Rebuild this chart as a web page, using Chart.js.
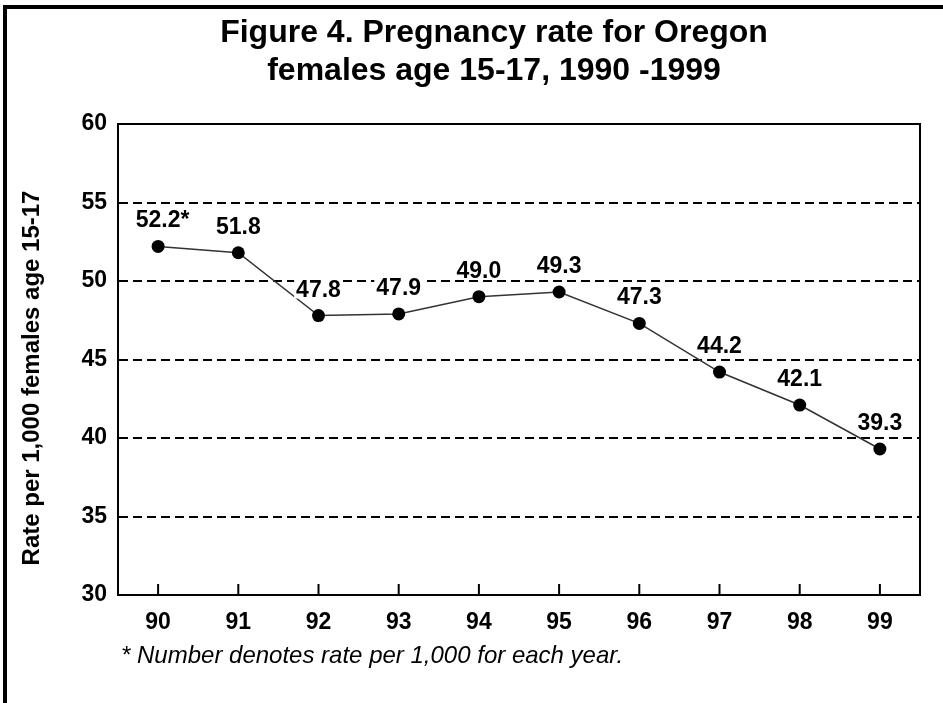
<!DOCTYPE html>
<html>
<head>
<meta charset="utf-8">
<script src="https://cdn.jsdelivr.net/npm/chart.js@4.4.0/dist/chart.umd.min.js"></script>
<style>
  html, body { margin: 0; padding: 0; background: #fff; }
  #wrap { position: relative; width: 943px; height: 703px; }
</style>
</head>
<body>
<div id="wrap"><canvas id="myChart"></canvas></div>
<script>
// data
const years = ["90", "91", "92", "93", "94", "95", "96", "97", "98", "99"];
const rates = [52.2, 51.8, 47.8, 47.9, 49.0, 49.3, 47.3, 44.2, 42.1, 39.3];
const rateLabels = ["52.2*", "51.8", "47.8", "47.9", "49.0", "49.3", "47.3", "44.2", "42.1", "39.3"];
const yMin = 30, yMax = 60, yStep = 5;

const titleLines = ["Figure 4. Pregnancy rate for Oregon", "females age 15-17, 1990 -1999"];
const yTitle = "Rate per 1,000 females age 15-17";
const footnote = "* Number denotes rate per 1,000 for each year.";

const FONT = '"Liberation Sans", Arial, Helvetica, sans-serif';

/* frame, titles, labels, inner ticks */
const extras = {
  id: 'extras',
  beforeDraw(chart) {
    const ctx = chart.ctx;
    ctx.save();
    ctx.fillStyle = '#fff';
    ctx.fillRect(0, 0, chart.width, chart.height);
    ctx.fillStyle = '#000';
    ctx.fillRect(3, 5, 4, chart.height);
    ctx.fillRect(3, 5, chart.width, 4);

    ctx.font = 'bold 32px ' + FONT;
    ctx.textAlign = 'center';
    ctx.textBaseline = 'alphabetic';
    ctx.fillText(titleLines[0], 494, 42);
    ctx.fillText(titleLines[1], 494, 80);

    // y axis title
    ctx.font = 'bold 24px ' + FONT;
    ctx.translate(32, 378);
    ctx.rotate(-Math.PI / 2);
    ctx.textBaseline = 'middle';
    ctx.fillText(yTitle, 0, 0);
    ctx.restore();
  },
  afterDatasetsDraw(chart) {
    const ctx = chart.ctx;
    const area = chart.chartArea;
    const x = chart.scales.x;
    ctx.save();
    // box top + right
    ctx.strokeStyle = '#000';
    ctx.lineWidth = 2;
    ctx.beginPath();
    ctx.moveTo(area.left, area.top);
    ctx.lineTo(area.right, area.top);
    ctx.lineTo(area.right, area.bottom);
    ctx.stroke();
    // inner tick marks
    for (let i = 0; i < years.length; i++) {
      const px = x.getPixelForValue(i);
      ctx.beginPath();
      ctx.moveTo(px, area.bottom);
      ctx.lineTo(px, area.bottom - 11);
      ctx.stroke();
    }
    // value labels
    const meta = chart.getDatasetMeta(0);
    ctx.font = 'bold 23px ' + FONT;
    ctx.textBaseline = 'alphabetic';
    ctx.textAlign = 'left';
    meta.data.forEach((pt, i) => {
      const txt = rateLabels[i];
      const core = txt.replace('*', '');
      const wCore = ctx.measureText(core).width;
      const w = ctx.measureText(txt).width;
      const left = pt.x - wCore / 2;
      const base = pt.y - 19;
      ctx.fillStyle = '#fff';
      ctx.fillRect(left - 2, base - 19, w + 4, 21);
      ctx.fillStyle = '#000';
      ctx.fillText(txt, left, base);
    });
    // footnote
    ctx.font = 'italic 24px ' + FONT;
    ctx.fillText(footnote, 121, 663);
    ctx.restore();
  }
};

const data = {
  labels: years,
  datasets: [{
    label: "Rate",
    data: rates,
    borderColor: "#333",
    borderWidth: 1.5,
    tension: 0,
    pointRadius: 6.5,
    pointHoverRadius: 6.5,
    pointBackgroundColor: "#000",
    pointBorderColor: "#000",
    pointBorderWidth: 0
  }]
};

const config = {
  type: "line",
  data: data,
  plugins: [extras],
  options: {
    responsive: true,
    maintainAspectRatio: false,
    animation: false,
    layout: {
      padding: { top: 124, left: 0, right: 23, bottom: 58 }
    },
    plugins: {
      legend: { display: false },
      title: { display: false },
      tooltip: { enabled: false }
    },
    scales: {
      x: {
        offset: true,
        grid: { display: false, drawTicks: false },
        border: { display: true, color: "#000", width: 2 },
        ticks: {
          color: "#000",
          padding: 14,
          font: { family: FONT, size: 23, weight: "bold" }
        },
        afterFit(scale) { scale.height = 50; }
      },
      y: {
        min: yMin,
        max: yMax,
        grid: { color: "#000", lineWidth: 2, drawTicks: false },
        border: { display: true, color: "#000", width: 2, dash: [9, 5] },
        ticks: {
          stepSize: yStep,
          color: "#000",
          padding: 11,
          font: { family: FONT, size: 23, weight: "bold" }
        },
        afterFit(scale) { scale.width = 118; }
      }
    }
  }
};

const context = document.getElementById("myChart").getContext("2d");
const chart = new Chart(context, config);
</script>
</body>
</html>
